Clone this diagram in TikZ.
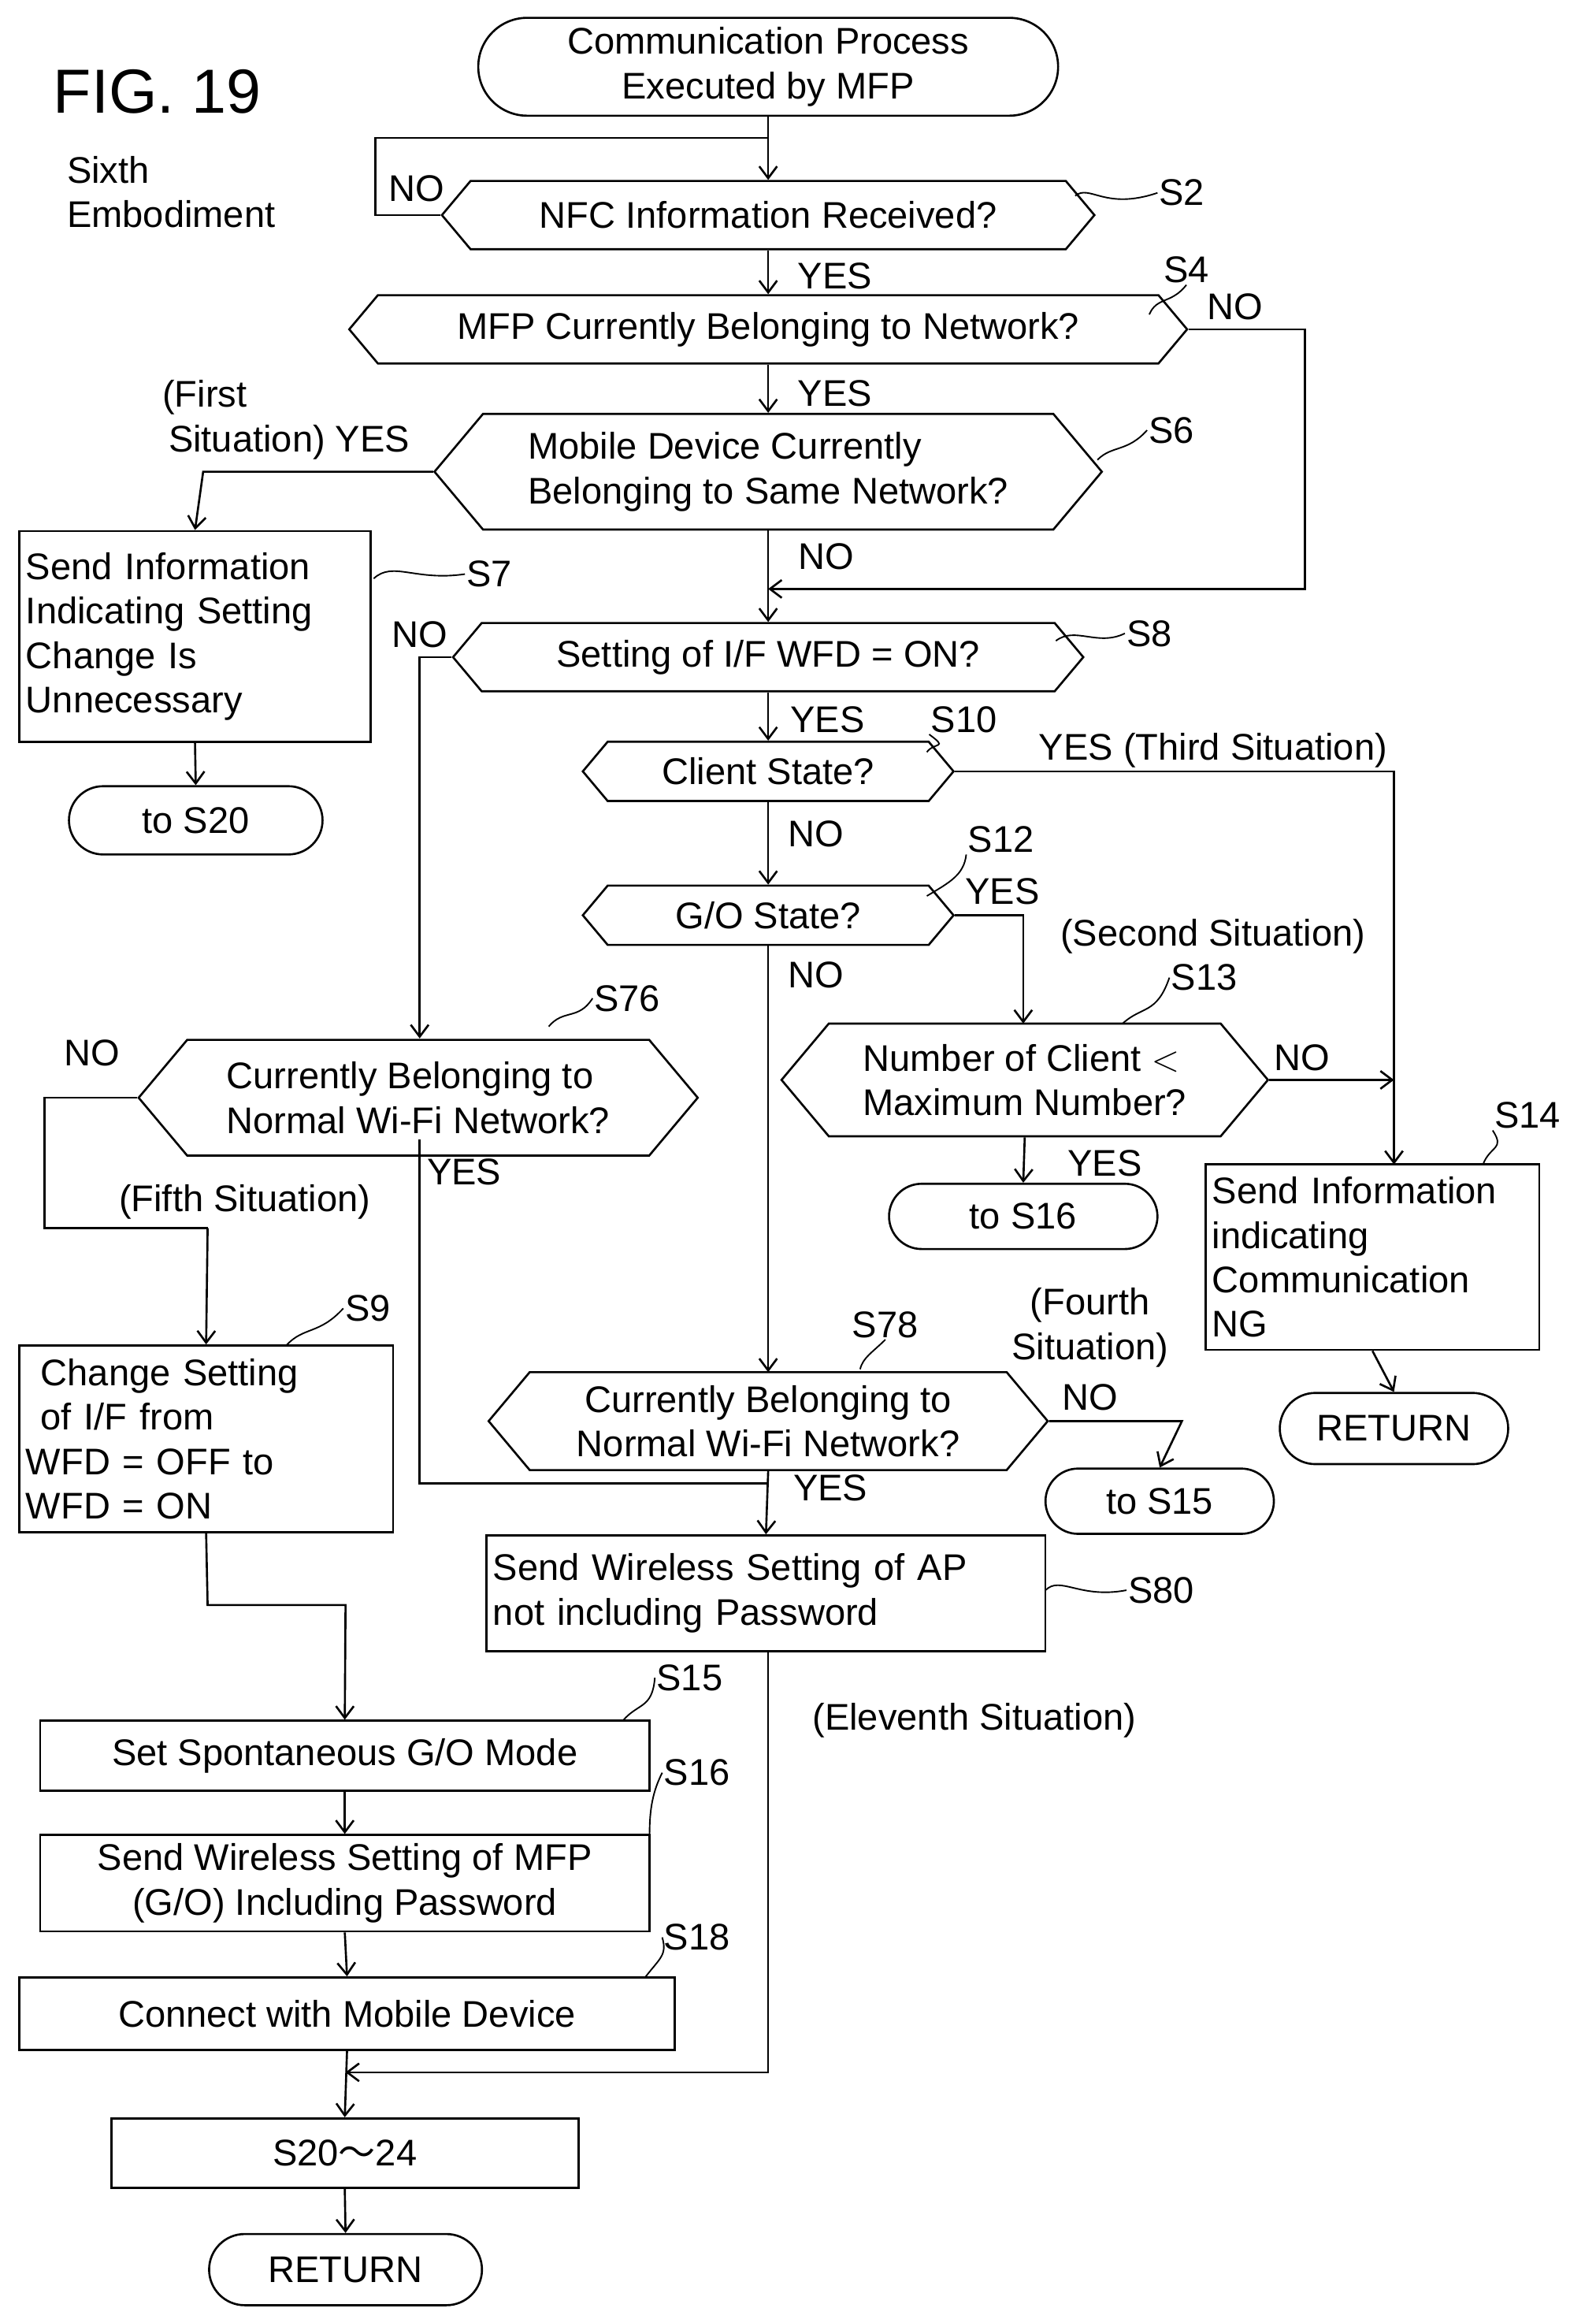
\documentclass[tikz,border=0pt]{standalone}
\usepackage{fontspec}
\setmainfont{Liberation Sans}
\newfontfamily\cjk{Noto Sans CJK JP}
\usetikzlibrary{shapes.symbols,shapes.misc,arrows.meta}
\begin{document}
\begin{tikzpicture}[x=1pt,y=-1pt,
  every node/.style={font=\fontsize{25}{30}\selectfont},
  dec/.style={shape=signal, signal to=west and east, signal pointer angle=100, draw, line width=1.4pt, inner sep=1pt, align=center},
  box/.style={draw, line width=1.4pt, inner sep=4pt, align=left},
  term/.style={draw, line width=1.4pt, rounded rectangle, inner sep=2pt, align=center},
  arr/.style={line width=1.4pt, -{Straight Barb[length=8pt,width=12pt]}},
  ln/.style={line width=1.4pt},
  lbl/.style={inner sep=1pt},
  lead/.style={line width=1pt}]
\useasboundingbox (0,0) rectangle (1076,1566);
% titles
\node[lbl, font=\fontsize{42}{46}\selectfont] (fig) at (106,62) {FIG. 19};
\node[lbl, align=left, anchor=north west] (emb) at (44,104) {Sixth\\Embodiment};
% nodes
\node[term, minimum width=395pt, minimum height=66pt] (start) at (518,45) {Communication Process\\Executed by MFP};
\node[dec, minimum width=440pt, minimum height=46pt] (s2) at (518,145) {NFC Information Received?};
\node[dec, minimum width=565pt, minimum height=46pt] (s4) at (518,222) {MFP Currently Belonging to Network?};
\node[dec, minimum width=450pt, minimum height=78pt, align=left] (s6) at (518,318) {Mobile Device Currently\\Belonging to Same Network?};
\node[box, minimum width=237pt, minimum height=142pt, text width=228pt] (s7) at (131.5,429) {Send Information\\Indicating Setting\\Change Is\\Unnecessary};
\node[term, minimum width=175pt, minimum height=46pt] (to20) at (132,553) {to S20};
\node[dec, minimum width=425pt, minimum height=46pt] (s8) at (518,443) {Setting of I/F WFD = ON?};
\node[dec, minimum width=250pt, minimum height=40pt] (s10) at (518,520) {Client State?};
\node[dec, minimum width=250pt, minimum height=40pt] (s12) at (518,617) {G/O State?};
\node[dec, minimum width=328pt, minimum height=76pt, align=left] (s13) at (691,728) {Number of Client $<$\\Maximum Number?};
\node[term, minimum width=185pt, minimum height=44pt] (to16) at (690,820) {to S16};
\node[box, minimum width=225pt, minimum height=125pt, text width=216pt] (s14) at (925.5,847.5) {Send Information\\indicating\\Communication\\NG};
\node[term, minimum width=158pt, minimum height=48pt] (ret1) at (940,963) {RETURN};
\node[dec, minimum width=377pt, minimum height=78pt, align=left] (s76) at (282,740) {Currently Belonging to\\Normal Wi-Fi Network?};
\node[box, minimum width=252pt, minimum height=126pt, text width=243pt] (s9) at (139,970) {\hspace{10pt}Change Setting\\\hspace{10pt}of I/F from\\WFD = OFF to\\WFD = ON};
\node[dec, minimum width=377pt, minimum height=66pt] (s78) at (518,958) {Currently Belonging to\\Normal Wi-Fi Network?};
\node[term, minimum width=158pt, minimum height=44pt] (to15) at (782,1012) {to S15};
\node[box, minimum width=377pt, minimum height=78pt, text width=368pt] (s80) at (516.5,1074) {Send Wireless Setting of AP\\not including Password};
\node[box, minimum width=411pt, minimum height=47pt, align=center] (s15) at (232.5,1183.5) {Set Spontaneous G/O Mode};
\node[box, minimum width=411pt, minimum height=65pt, align=center] (s16) at (232.5,1269.5) {Send Wireless Setting of MFP\\(G/O) Including Password};
\node[box, minimum width=442pt, minimum height=49pt, align=center] (s18) at (234,1357.5) {Connect with Mobile Device};
\node[box, minimum width=315pt, minimum height=47pt, align=center] (s20) at (232.5,1451.5) {S20{\cjk 〜}24};
\node[term, minimum width=188pt, minimum height=48pt] (ret2) at (233,1530) {RETURN};
% step labels with leaders
\node[lbl] (l2) at (797,130) {S2}; \draw[lead] (725,132) .. controls (735,124) and (745,142) .. (l2.west);
\node[lbl] (l4) at (800,182) {S4}; \draw[lead] (775,212) .. controls (780,200) and (790,205) .. (l4.south);
\node[lbl] (l6) at (790,290) {S6}; \draw[lead] (740,310) .. controls (750,300) and (760,305) .. (l6.west);
\node[lbl] (l7) at (330,387) {S7}; \draw[lead] (252,390) .. controls (265,378) and (280,392) .. (l7.west);
\node[lbl] (l8) at (775,427) {S8}; \draw[lead] (712,432) .. controls (725,422) and (740,436) .. (l8.west);
\node[lbl] (l10) at (650,485) {S10}; \draw[lead] (625,507) .. controls (630,500) and (640,505) .. (l10.south west);
\node[lbl] (l12) at (675,566) {S12}; \draw[lead] (625,604) .. controls (640,595) and (650,590) .. (l12.south west);
\node[lbl] (l13) at (812,659) {S13}; \draw[lead] (757,690) .. controls (770,678) and (780,684) .. (l13.west);
\node[lbl] (l14) at (1030,752) {S14}; \draw[lead] (1000,785) .. controls (1005,772) and (1015,775) .. (l14.south west);
\node[lbl] (l76) at (423,673) {S76}; \draw[lead] (370,692) .. controls (380,680) and (390,688) .. (l76.west);
\node[lbl] (l9) at (248,882) {S9}; \draw[lead] (193,907) .. controls (205,894) and (215,900) .. (l9.west);
\node[lbl] (l78) at (597,893) {S78}; \draw[lead] (580,923) .. controls (582,915) and (588,912) .. (l78.south);
\node[lbl] (l80) at (783,1072) {S80}; \draw[lead] (705,1072) .. controls (715,1062) and (728,1078) .. (l80.west);
\node[lbl] (l15) at (465,1131) {S15}; \draw[lead] (420,1160) .. controls (430,1148) and (440,1152) .. (l15.west);
\node[lbl] (l16) at (470,1195) {S16}; \draw[lead] (438,1237) .. controls (438,1220) and (440,1208) .. (l16.west);
\node[lbl] (l18) at (470,1306) {S18}; \draw[lead] (435,1333) .. controls (445,1320) and (450,1318) .. (l18.west);
% text labels
\node[lbl] at (281,127) {NO};
\node[lbl] at (563,186) {YES};
\node[lbl] at (833,207) {NO};
\node[lbl] at (563,265) {YES};
\node[lbl, align=left] at (138,268) {(First};
\node[lbl] at (195,298) {Situation) YES};
\node[lbl] at (557,375) {NO};
\node[lbl] at (283,428) {NO};
\node[lbl] at (558,485) {YES};
\node[lbl] at (818,506) {YES (Third Situation)};
\node[lbl] at (550,562) {NO};
\node[lbl] at (676,601) {YES};
\node[lbl] at (818,631) {(Second Situation)};
\node[lbl] at (550,657) {NO};
\node[lbl] at (878,713) {NO};
\node[lbl] at (745,784) {YES};
\node[lbl] at (62,710) {NO};
\node[lbl] at (165,810) {(Fifth Situation)};
\node[lbl] at (313,790) {YES};
\node[lbl, align=center] at (735,895) {(Fourth\\Situation)};
\node[lbl] at (735,942) {NO};
\node[lbl] at (560,1003) {YES};
\node[lbl] at (657,1160) {(Eleventh Situation)};
% connectors
\draw[ln] (start.south) -- (518,93);
\draw[arr] (s2.west) -- (253,145) -- (253,93) -- (518,93) -- (s2.north);
\draw[arr] (s2.south) -- (s4.north);
\draw[arr] (s4.south) -- (s6.north);
\draw[arr] (s4.east) -- (880,222) -- (880,397) -- (518,397);
\draw[arr] (s6.south) -- (s8.north);
\draw[arr] (s6.west) -- (137,318) -- (s7.north);
\draw[arr] (s7.south) -- (to20.north);
\draw[arr] (s8.west) -- (283,443) -- (283,700);
\draw[arr] (s8.south) -- (s10.north);
\draw[arr] (s10.east) -- (940,520) -- (940,785);
\draw[arr] (s10.south) -- (s12.north);
\draw[arr] (s12.east) -- (690,617) -- (690,690);
\draw[arr] (s12.south) -- (518,925);
\draw[arr] (s13.east) -- (940,728);
\draw[arr] (s13.south) -- (to16.north);
\draw[arr] (s14.south) -- (ret1.north);
\draw[ln] (s76.west) -- (30,740) -- (30,828) -- (140,828);
\draw[arr] (140,828) -- (s9.north);
\draw[ln] (283,768) -- (283,1000) -- (518,1000);
\draw[arr] (s78.south) -- (s80.north);
\draw[arr] (s78.east) -- (797,958) -- (to15.north);
\draw[arr] (s9.south) -- (140,1082) -- (233,1082) -- (s15.north);
\draw[arr] (s15.south) -- (s16.north);
\draw[arr] (s16.south) -- (s18.north);
\draw[arr] (s18.south) -- (s20.north);
\draw[arr] (518,1113) -- (518,1397) -- (233,1397);
\draw[arr] (s20.south) -- (ret2.north);
\end{tikzpicture}
\end{document}
